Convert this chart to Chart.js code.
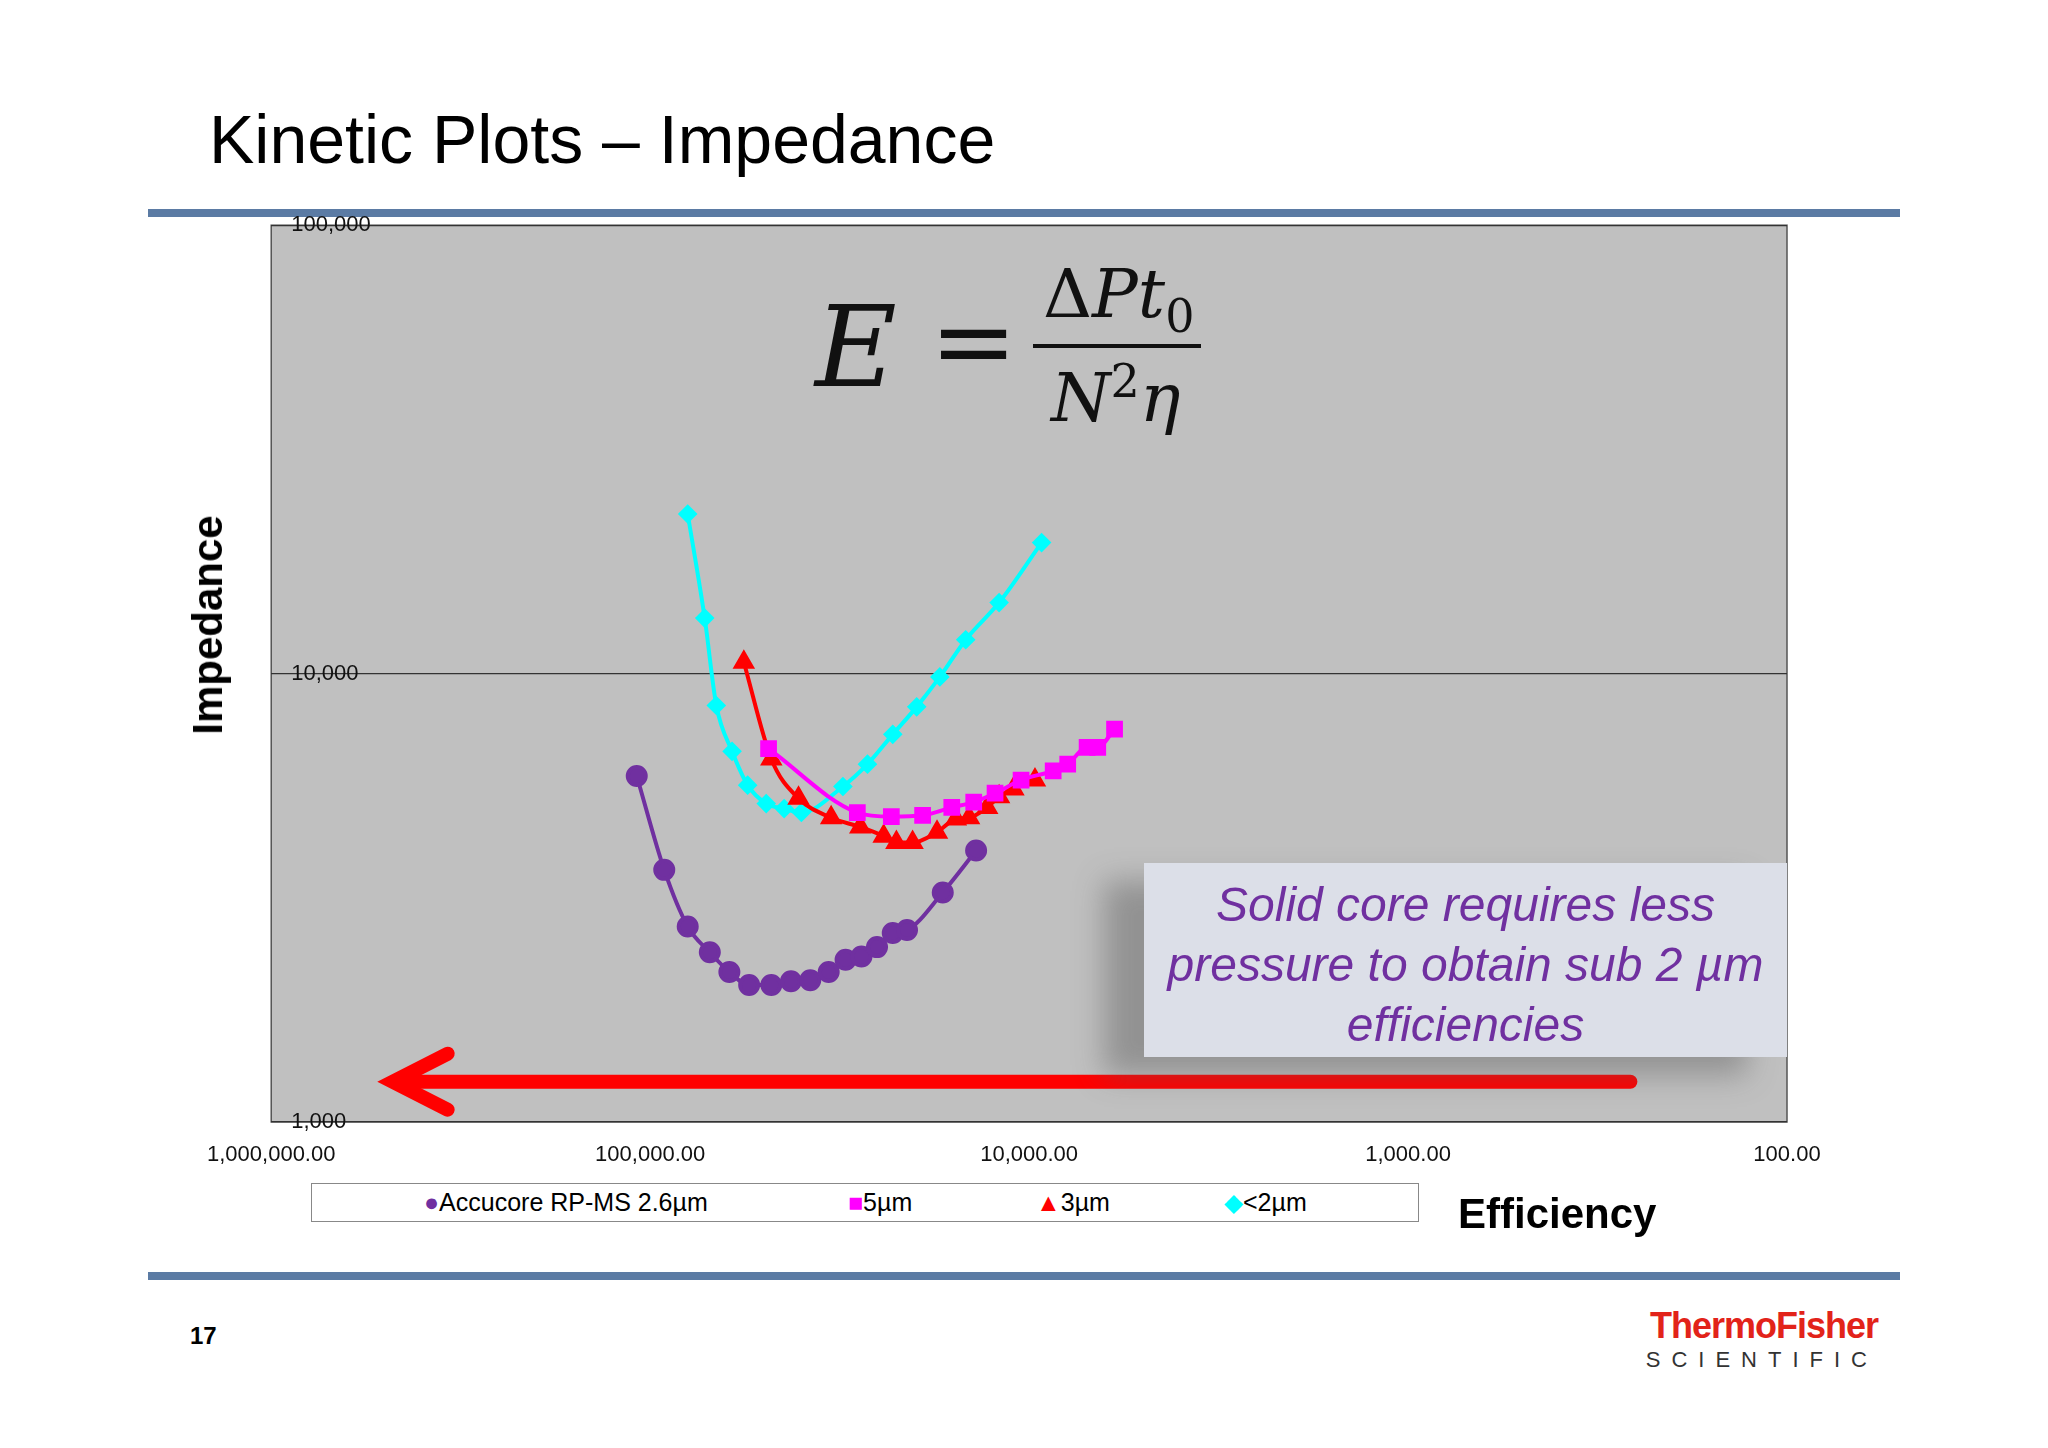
<!DOCTYPE html>
<html>
<head>
<meta charset="utf-8">
<script src="https://cdn.jsdelivr.net/npm/chart.js@4"></script>
<style>
  body { margin: 0; width: 2048px; height: 1448px; background: #fff; position: relative; font-family: "Liberation Sans", Arial, sans-serif; overflow: hidden; }
  .abs { position: absolute; }
  #title { left: 209px; top: 100px; font-size: 68px; color: #000; }
  .rule { left: 148px; width: 1752px; height: 8px; background: #5b7ba4; }
  #wrap { left: 195px; top: 192px; width: 1645px; height: 1008px; }
  #ytitle { left: 208px; top: 625px; transform: translate(-50%, -50%) rotate(-90deg); font-size: 42px; font-weight: bold; }
  #xtitle { left: 1458px; top: 1190px; font-size: 42px; font-weight: bold; }
  #legend { left: 311px; top: 1183px; width: 1106px; height: 37px; border: 1px solid #888; background: #fff; font-size: 25px; }
  #legend span { position: absolute; top: 4px; }
  #eq { left: 815px; top: 262px; font-family: "DejaVu Serif", "Liberation Serif", serif; font-style: italic; color: #111; }
  #box { left: 1144px; top: 863px; width: 643px; height: 194px; background: #dcdfe8; box-shadow: -40px 18px 28px rgba(90,90,90,0.45); color: #7030a0; font-style: italic; font-size: 48px; text-align: center; line-height: 60px; padding-top: 12px; box-sizing: border-box; }
  #page { left: 190px; top: 1322px; font-size: 24px; font-weight: bold; }
  #logo { left: 1640px; top: 1305px; text-align: right; width: 238px; }
</style>
</head>
<body>
<div id="title" class="abs">Kinetic Plots – Impedance</div>
<div class="abs rule" style="top:209px"></div>
<div class="abs rule" style="top:1272px"></div>
<div id="wrap" class="abs"><canvas id="chart"></canvas></div>
<div id="ytitle" class="abs">Impedance</div>
<div id="xtitle" class="abs">Efficiency</div>
<div id="eq" class="abs">
  <span style="position:absolute;left:0;top:20px;font-size:112px;">E</span>
  <span style="position:absolute;left:115px;top:18px;font-size:104px;font-style:normal;">=</span>
  <span style="position:absolute;left:228px;top:-8px;font-size:68px;white-space:nowrap;"><span style="font-style:normal">Δ</span>Pt<sub style="font-size:46px;font-style:normal">0</sub></span>
  <div style="position:absolute;left:218px;top:82px;width:168px;height:4px;background:#111;"></div>
  <span style="position:absolute;left:236px;top:92px;font-size:68px;white-space:nowrap;">N<sup style="font-size:46px;font-style:normal">2</sup>η</span>
</div>
<div id="box" class="abs">Solid core requires less<br>pressure to obtain sub 2 µm<br>efficiencies</div>
<div id="legend" class="abs">
  <span style="left:112px"><span style="color:#7030a0;position:static">●</span>Accucore RP-MS 2.6µm</span>
  <span style="left:536px"><span style="color:#ff00ff;position:static">■</span>5µm</span>
  <span style="left:724px"><span style="color:#ff0000;position:static">▲</span>3µm</span>
  <span style="left:912px"><span style="color:#00ffff;position:static">◆</span>&lt;2µm</span>
</div>
<div id="page" class="abs">17</div>
<div id="logo" class="abs">
  <div style="color:#e2231a;font-weight:bold;font-size:36px;letter-spacing:-1px;">ThermoFisher</div>
  <div style="font-size:22px;letter-spacing:11px;color:#333;">SCIENTIFIC</div>
</div>
<script>
// efficiency (x) / impedance (y) pairs
const accX = [108500, 91800, 79600, 69600, 61800, 54800, 47900, 42500, 37800, 33800, 30500, 27700, 25200, 22900, 21000, 16900, 13800];
const accY = [5910, 3650, 2730, 2390, 2160, 2020, 2020, 2060, 2070, 2160, 2300, 2340, 2455, 2640, 2680, 3250, 4030];
const fiveX = [48700, 28400, 23100, 19100, 16000, 14000, 12300, 10500, 8640, 7910, 7030, 6590, 5950];
const fiveY = [6800, 4900, 4800, 4830, 5030, 5170, 5410, 5790, 6070, 6280, 6850, 6850, 7520];
const threeX = [56600, 47900, 40600, 33300, 27900, 24200, 22400, 20300, 17500, 15600, 14400, 12900, 12000, 11000, 9650];
const threeY = [10600, 6450, 5270, 4770, 4550, 4340, 4200, 4200, 4430, 4740, 4770, 5030, 5310, 5530, 5790];
const subTwoX = [79600, 71800, 66900, 60800, 55300, 49400, 44300, 39900, 31000, 26700, 22900, 19800, 17200, 14700, 12000, 9270];
const subTwoY = [22700, 13300, 8490, 6710, 5640, 5130, 5000, 4900, 5600, 6280, 7320, 8430, 9830, 11900, 14400, 19600];
const arrowX = [259, 478000];   // arrow tail, head (efficiency)
const arrowY = 1230;            // impedance level of arrow

const pts = (xs, ys) => xs.map((x, i) => ({ x: x, y: ys[i] }));
const series = (label, xs, ys, color, style, r) => ({
  label, data: pts(xs, ys), borderColor: color, backgroundColor: color,
  pointStyle: style, pointRadius: r, borderWidth: 4, showLine: true,
  tension: 0.5, cubicInterpolationMode: 'monotone'
});

const decades = axis => { axis.ticks = axis.ticks.filter(t => Math.abs(Math.log10(t.value) % 1) < 1e-6); };

const bgPlugin = {
  id: 'bg',
  beforeDraw(c) {
    const a = c.chartArea, ctx = c.ctx;
    ctx.save();
    ctx.fillStyle = '#c0c0c0';
    ctx.fillRect(a.left, a.top, a.width, a.height);
    ctx.strokeStyle = '#555'; ctx.lineWidth = 1.5;
    ctx.strokeRect(a.left, a.top, a.width, a.height);
    ctx.restore();
  },
  afterDraw(c) {
    const ctx = c.ctx, xs = c.scales.x, ys = c.scales.y;
    const x1 = xs.getPixelForValue(arrowX[0]), x2 = xs.getPixelForValue(arrowX[1]), y = ys.getPixelForValue(arrowY);
    ctx.save();
    ctx.strokeStyle = '#ff0000'; ctx.lineWidth = 14; ctx.lineCap = 'round';
    ctx.beginPath(); ctx.moveTo(x1, y); ctx.lineTo(x2 + 8, y); ctx.stroke();
    ctx.beginPath(); ctx.moveTo(x2 + 55, y - 28); ctx.lineTo(x2, y); ctx.lineTo(x2 + 55, y + 28); ctx.stroke();
    ctx.restore();
  }
};

new Chart(document.getElementById('chart'), {
  type: 'scatter',
  data: {
    datasets: [
      series('Accucore RP-MS 2.6µm', accX, accY, '#7030a0', 'circle', 9),
      series('5µm', fiveX, fiveY, '#ff00ff', 'rect', 9),
      series('3µm', threeX, threeY, '#ff0000', 'triangle', 9),
      series('<2µm', subTwoX, subTwoY, '#00ffff', 'rectRot', 7)
    ]
  },
  options: {
    responsive: true, maintainAspectRatio: false, animation: false,
    layout: { padding: { left: 57, right: 53, top: 17, bottom: 28 } },
    plugins: { legend: { display: false }, tooltip: { enabled: false } },
    scales: {
      x: {
        type: 'logarithmic', reverse: true, min: 100, max: 1000000,
        afterBuildTicks: decades,
        afterFit: s => { s.height = 50; },
        grid: { display: false },
        border: { display: false },
        ticks: { color: '#111', font: { size: 22 }, padding: 12,
          callback: v => Number(v).toLocaleString('en-US', { minimumFractionDigits: 2, maximumFractionDigits: 2 }) }
      },
      y: {
        type: 'logarithmic', min: 1000, max: 100000,
        afterBuildTicks: decades,
        afterFit: s => { s.width = 0; },
        grid: { color: '#333', lineWidth: 1.2, drawTicks: false },
        border: { display: false },
        ticks: { mirror: true, color: '#111', font: { size: 22 }, padding: 20, z: 1,
          callback: v => Number(v).toLocaleString('en-US') }
      }
    }
  },
  plugins: [bgPlugin]
});
</script>
</body>
</html>
